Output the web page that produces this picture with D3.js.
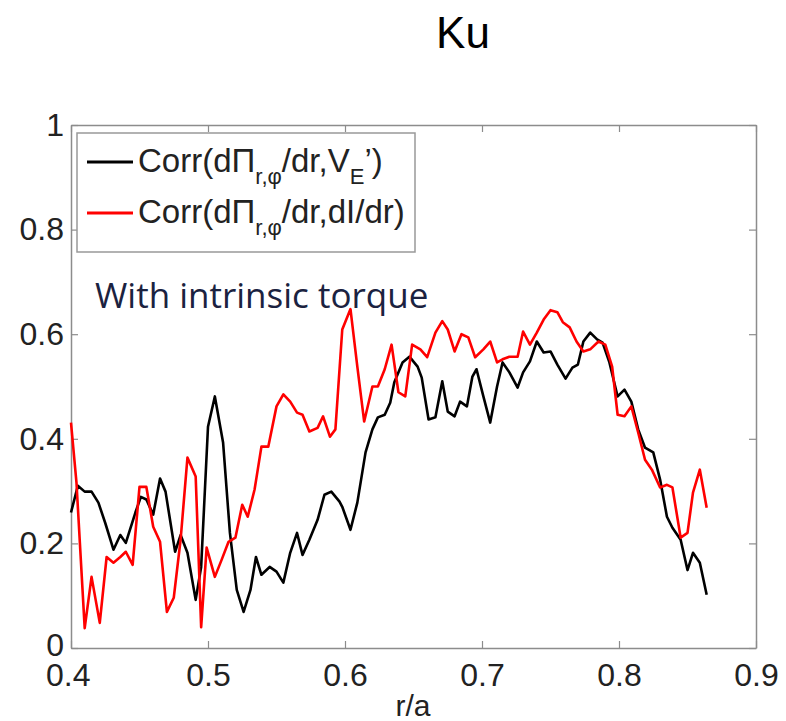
<!DOCTYPE html>
<html>
<head>
<meta charset="utf-8">
<script src="https://cdn.jsdelivr.net/npm/d3@7/dist/d3.min.js"></script>
<style>
  html, body { margin: 0; padding: 0; background: #fff; }
  svg { display: block; }
</style>
</head>
<body>
<svg id="chart" width="786" height="721"></svg>
<script>
// ---- data ----
const xTicks = [0.4, 0.5, 0.6, 0.7, 0.8, 0.9];
const xTickLabels = ["0.4", "0.5", "0.6", "0.7", "0.8", "0.9"];
const yTicks = [0, 0.2, 0.4, 0.6, 0.8, 1];
const yTickLabels = ["0", "0.2", "0.4", "0.6", "0.8", "1"];

const blackR = [0.400,0.405,0.410,0.415,0.420,0.425,0.431,0.436,0.440,0.447,0.451,0.455,0.460,0.465,0.469,0.476,0.480,0.485,0.491,0.495,0.500,0.505,0.511,0.516,0.521,0.526,0.531,0.535,0.539,0.545,0.550,0.555,0.560,0.565,0.569,0.574,0.580,0.585,0.590,0.596,0.598,0.604,0.609,0.615,0.620,0.624,0.629,0.633,0.636,0.642,0.647,0.653,0.656,0.661,0.666,0.671,0.675,0.680,0.684,0.689,0.693,0.696,0.701,0.706,0.711,0.715,0.720,0.726,0.730,0.735,0.740,0.745,0.750,0.755,0.761,0.766,0.770,0.774,0.779,0.784,0.788,0.793,0.799,0.804,0.809,0.814,0.819,0.825,0.830,0.835,0.839,0.845,0.850,0.854,0.859,0.864];
const blackCorr = [0.259,0.310,0.299,0.299,0.278,0.239,0.188,0.216,0.201,0.259,0.289,0.284,0.255,0.324,0.299,0.184,0.216,0.182,0.092,0.155,0.423,0.481,0.393,0.220,0.111,0.069,0.111,0.174,0.140,0.155,0.146,0.125,0.182,0.220,0.178,0.207,0.245,0.293,0.299,0.280,0.270,0.226,0.278,0.374,0.418,0.441,0.446,0.469,0.508,0.546,0.557,0.538,0.517,0.437,0.441,0.510,0.452,0.443,0.471,0.462,0.519,0.533,0.481,0.431,0.500,0.546,0.527,0.498,0.527,0.548,0.586,0.565,0.567,0.542,0.515,0.536,0.542,0.586,0.603,0.590,0.584,0.546,0.481,0.494,0.471,0.418,0.383,0.374,0.322,0.251,0.230,0.207,0.149,0.182,0.163,0.102];

const redR = [0.400,0.404,0.410,0.415,0.421,0.426,0.431,0.436,0.440,0.445,0.450,0.455,0.460,0.465,0.470,0.475,0.480,0.485,0.491,0.495,0.499,0.505,0.510,0.515,0.520,0.525,0.529,0.534,0.539,0.544,0.550,0.555,0.560,0.565,0.569,0.574,0.580,0.584,0.589,0.593,0.598,0.604,0.609,0.614,0.620,0.624,0.629,0.634,0.639,0.644,0.649,0.655,0.660,0.666,0.671,0.675,0.680,0.685,0.690,0.695,0.701,0.706,0.711,0.715,0.720,0.726,0.730,0.735,0.740,0.745,0.750,0.755,0.759,0.764,0.769,0.774,0.779,0.785,0.790,0.795,0.799,0.804,0.809,0.814,0.819,0.824,0.830,0.835,0.839,0.845,0.850,0.854,0.859,0.864];
const redCorr = [0.431,0.316,0.038,0.136,0.048,0.174,0.163,0.174,0.184,0.159,0.308,0.308,0.232,0.203,0.069,0.096,0.207,0.364,0.328,0.040,0.192,0.136,0.169,0.203,0.211,0.274,0.251,0.303,0.385,0.385,0.462,0.485,0.471,0.450,0.446,0.414,0.421,0.443,0.404,0.418,0.609,0.648,0.538,0.433,0.500,0.500,0.533,0.580,0.489,0.481,0.580,0.571,0.556,0.603,0.625,0.609,0.567,0.600,0.594,0.556,0.571,0.586,0.546,0.552,0.557,0.557,0.605,0.580,0.603,0.628,0.646,0.642,0.623,0.613,0.586,0.567,0.571,0.586,0.580,0.538,0.446,0.443,0.462,0.412,0.360,0.341,0.307,0.312,0.307,0.211,0.220,0.297,0.341,0.268];

// ---- layout ----
const svg = d3.select("#chart");
const L = 71, R = 756, T = 125, B = 648;
const x = d3.scaleLinear().domain([0.4, 0.9]).range([L, R]);
const y = d3.scaleLinear().domain([0, 1]).range([B, T]);
const axisColor = "#8c8c8c";
const labelFont = "'Liberation Sans', Arial, sans-serif";

function styleAxis(g, showLabels) {
  g.select(".domain").attr("stroke", axisColor).attr("stroke-width", 1.5);
  g.selectAll(".tick line").attr("stroke", axisColor).attr("stroke-width", 1.2);
  g.selectAll(".tick text")
    .attr("fill", "#222")
    .style("font-family", labelFont)
    .style("font-size", "32px");
  if (!showLabels) g.selectAll(".tick text").remove();
}

svg.append("g").attr("transform", `translate(0,${B})`)
  .call(d3.axisBottom(x).tickValues(xTicks).tickSizeInner(-7).tickSizeOuter(0).tickPadding(15)
    .tickFormat((d, i) => xTickLabels[i]))
  .call(g => styleAxis(g, true))
  .call(g => g.selectAll(".tick text").filter(d => d === 0.4).attr("dx", "-0.1em"));
svg.append("g").attr("transform", `translate(0,${T})`)
  .call(d3.axisTop(x).tickValues(xTicks).tickSizeInner(-7).tickSizeOuter(0).tickFormat(""))
  .call(g => styleAxis(g, false));
svg.append("g").attr("transform", `translate(${L},0)`)
  .call(d3.axisLeft(y).tickValues(yTicks).tickSizeInner(-7).tickSizeOuter(0).tickPadding(7)
    .tickFormat((d, i) => yTickLabels[i]))
  .call(g => styleAxis(g, true))
  .call(g => g.selectAll(".tick text").filter(d => d === 0).attr("dy", "0.22em"));
svg.append("g").attr("transform", `translate(${R},0)`)
  .call(d3.axisRight(y).tickValues(yTicks).tickSizeInner(-7).tickSizeOuter(0).tickFormat(""))
  .call(g => styleAxis(g, false));

// lines
const line = d3.line().x(d => x(d[0])).y(d => y(d[1]));
const blackData = blackR.map((r, i) => [r, blackCorr[i]]);
const redData = redR.map((r, i) => [r, redCorr[i]]);

svg.append("path").datum(blackData).attr("d", line)
  .attr("fill", "none").attr("stroke", "#000").attr("stroke-width", 2.6).attr("stroke-linejoin", "round");
svg.append("path").datum(redData).attr("d", line)
  .attr("fill", "none").attr("stroke", "#ff0000").attr("stroke-width", 2.6).attr("stroke-linejoin", "round");

// title
svg.append("text").attr("x", 463).attr("y", 48).attr("text-anchor", "middle")
  .style("font-family", labelFont).style("font-size", "44px").attr("fill", "#000").text("Ku");

// x label
svg.append("text").attr("x", 413).attr("y", 716).attr("text-anchor", "middle")
  .style("font-family", labelFont).style("font-size", "30px").attr("fill", "#222").text("r/a");

// annotation
svg.append("text").attr("x", 95).attr("y", 308)
  .style("font-family", "'Open Sans', 'Noto Sans', sans-serif").style("font-size", "35px")
  .attr("fill", "#1b2240").text("With intrinsic torque");

// legend
const lg = svg.append("g");
lg.append("rect").attr("x", 77).attr("y", 133).attr("width", 338).attr("height", 119)
  .attr("fill", "#fff").attr("stroke", "#999").attr("stroke-width", 1.5);

const legendItems = [
  { color: "#000", y: 172, parts: [["Corr(d\u03A0", 0], ["r,\u03C6", 1], ["/dr,V", 0], ["E", 1], ["\u2019)", 0]] },
  { color: "#ff0000", y: 223, parts: [["Corr(d\u03A0", 0], ["r,\u03C6", 1], ["/dr,dI/dr)", 0]] }
];
legendItems.forEach(it => {
  lg.append("line").attr("x1", 87).attr("x2", 133).attr("y1", it.y - 10).attr("y2", it.y - 10)
    .attr("stroke", it.color).attr("stroke-width", 3);
  const t = lg.append("text").attr("x", 138).attr("y", it.y)
    .style("font-family", labelFont).style("font-size", "33px").attr("fill", "#222");
  it.parts.forEach((p, i) => {
    const prev = i > 0 ? it.parts[i - 1][1] : 0;
    let dy = 0;
    if (p[1] && !prev) dy = 12;
    else if (!p[1] && prev) dy = -12;
    const ts = t.append("tspan").attr("dy", dy).text(p[0]);
    if (p[1]) ts.style("font-size", "22px");
  });
});
</script>
</body>
</html>
